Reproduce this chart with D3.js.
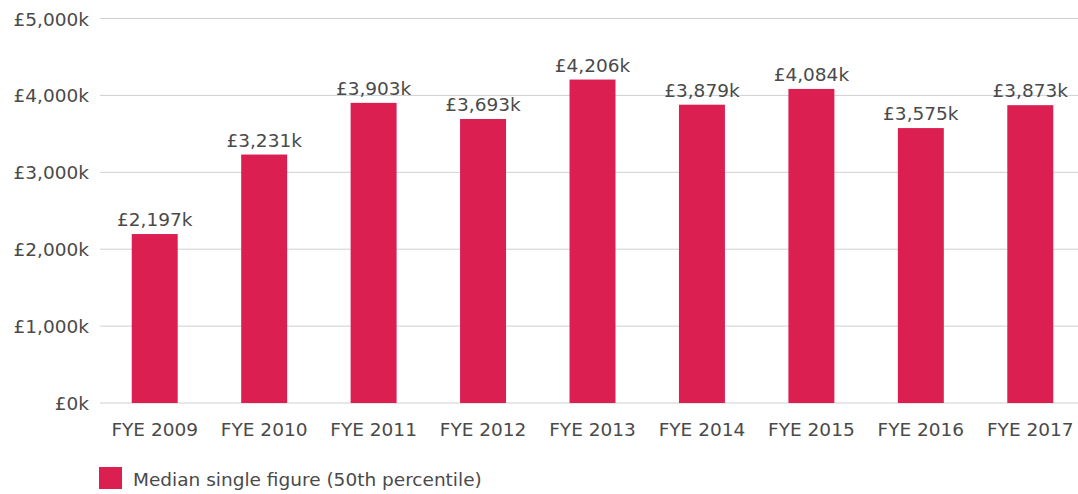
<!DOCTYPE html>
<html lang="en">
<head>
<meta charset="utf-8">
<title>Median single figure</title>
<script src="https://cdn.jsdelivr.net/npm/d3@7"></script>
<style>
body { margin: 0; background: #fff; }
text { font-family: "DejaVu Sans", sans-serif; fill: #4a4a4a; font-size: 18.5px; }
</style>
</head>
<body>
<script>
// data
var years = ["FYE 2009", "FYE 2010", "FYE 2011", "FYE 2012", "FYE 2013", "FYE 2014", "FYE 2015", "FYE 2016", "FYE 2017"];
var medians = [2197, 3231, 3903, 3693, 4206, 3879, 4084, 3575, 3873];
var yTicks = [0, 1000, 2000, 3000, 4000, 5000];
var seriesName = "Median single figure (50th percentile)";

var w = 1078, h = 494;
var svg = d3.select("body").append("svg").attr("width", w).attr("height", h);

var x = d3.scaleBand().domain(years).range([100, 1085]).paddingInner(0.58).paddingOuter(0.29);
var y = d3.scaleLinear().domain([0, 5000]).range([403, 18.5]);
var fmt = d3.format(",");

// gridlines
svg.selectAll("line.grid")
    .data(yTicks)
    .enter()
    .append("line")
    .attr("x1", 100).attr("x2", w)
    .attr("y1", function(d) { return y(d); })
    .attr("y2", function(d) { return y(d); })
    .attr("stroke", "#cfcfcf")
    .attr("stroke-width", 1);

// y labels
svg.selectAll("text.ylab")
    .data(yTicks)
    .enter()
    .append("text")
    .attr("x", 89)
    .attr("y", function(d) { return y(d) + 7; })
    .attr("text-anchor", "end")
    .text(function(d) { return "£" + fmt(d) + "k"; });

// bars
svg.selectAll("rect.bar")
    .data(medians)
    .enter()
    .append("rect")
    .attr("x", function(d, i) { return x(years[i]); })
    .attr("width", x.bandwidth())
    .attr("y", function(d) { return y(d); })
    .attr("height", function(d) { return y(0) - y(d); })
    .attr("fill", "#db1f51");

// value labels
svg.selectAll("text.val")
    .data(medians)
    .enter()
    .append("text")
    .attr("x", function(d, i) { return x(years[i]) + x.bandwidth() / 2; })
    .attr("y", function(d) { return y(d) - 8; })
    .attr("text-anchor", "middle")
    .text(function(d) { return "£" + fmt(d) + "k"; });

// category labels
svg.selectAll("text.cat")
    .data(years)
    .enter()
    .append("text")
    .attr("x", function(d) { return x(d) + x.bandwidth() / 2; })
    .attr("y", 436)
    .attr("text-anchor", "middle")
    .text(function(d) { return d; });

// legend
svg.append("rect").attr("x", 99).attr("y", 467).attr("width", 23).attr("height", 22).attr("fill", "#db1f51");
svg.append("text").attr("x", 133).attr("y", 486).text(seriesName);
</script>
</body>
</html>
